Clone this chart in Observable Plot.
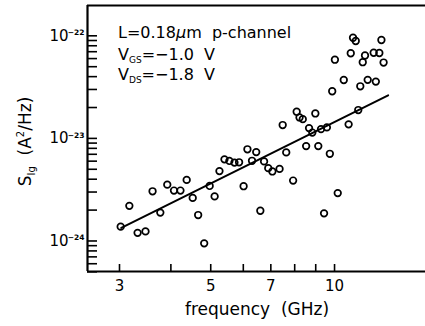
<!DOCTYPE html>
<html><head><meta charset="utf-8">
<script src="https://cdn.jsdelivr.net/npm/d3@7"></script>
<script src="https://cdn.jsdelivr.net/npm/@observablehq/plot@0.6"></script>
<style>
html,body{margin:0;padding:0;background:#fff;overflow:hidden}
svg{display:block}
</style>
</head><body><div id="chart"></div>
<script>
const freqGHz = [3.02, 3.17, 3.32, 3.47, 3.61, 3.77, 3.92, 4.07, 4.22, 4.37, 4.52, 4.66, 4.82, 4.97, 5.11, 5.25, 5.40, 5.55, 5.71, 5.86, 6.01, 6.14, 6.30, 6.45, 6.60, 6.74, 6.90, 7.06, 7.35, 7.48, 7.63, 7.93, 8.09, 8.22, 8.37, 8.53, 8.67, 8.83, 8.98, 9.13, 9.27, 9.43, 9.58, 9.74, 9.87, 10.02, 10.18, 10.53, 10.82, 10.95, 11.09, 11.26, 11.42, 11.55, 11.71, 11.86, 12.04, 12.45, 12.60, 12.85, 13.00, 13.16];
const sIg = [1.38e-24, 2.20e-24, 1.20e-24, 1.24e-24, 3.05e-24, 1.89e-24, 3.54e-24, 3.10e-24, 3.10e-24, 3.94e-24, 2.63e-24, 1.79e-24, 9.48e-25, 3.44e-24, 2.72e-24, 4.80e-24, 6.25e-24, 6.03e-24, 5.81e-24, 5.85e-24, 3.42e-24, 7.83e-24, 6.05e-24, 7.35e-24, 1.97e-24, 5.97e-24, 5.13e-24, 4.76e-24, 5.04e-24, 1.35e-23, 7.30e-24, 3.88e-24, 1.82e-23, 1.60e-23, 1.54e-23, 8.41e-24, 1.26e-23, 1.14e-23, 1.75e-23, 8.41e-24, 1.23e-23, 1.86e-24, 1.28e-23, 7.08e-24, 2.88e-23, 5.85e-23, 2.93e-24, 3.71e-23, 1.37e-23, 6.76e-23, 9.58e-23, 8.90e-23, 1.89e-23, 3.22e-23, 5.53e-23, 6.43e-23, 3.72e-23, 6.84e-23, 3.58e-23, 6.80e-23, 9.10e-23, 5.49e-23];
const fitFreqGHz = [3.03, 13.5];
const fitSIg = [1.34e-24, 2.63e-23];
const xTicks = [3, 4, 5, 6, 7, 8, 9, 10];
const xTickLabels = ["3", "", "5", "", "7", "", "", "10"];
const yMajor = [1e-22, 1e-23, 1e-24];
const yExponents = ["\u221222", "\u221223", "\u221224"];
const yMinor = [5e-25, 6e-25, 7e-25, 8e-25, 9e-25, 2e-24, 3e-24, 4e-24, 5e-24, 6e-24, 7e-24, 8e-24, 9e-24, 2e-23, 3e-23, 4e-23, 5e-23, 6e-23, 7e-23, 8e-23, 9e-23];
const xDomain = [2.508, 16.64];
const yDomain = [5.04e-25, 1.975e-22];

const W = 425, H = 326;
const mL = 87, mR = 0, mT = 5, mB = 55;
const frameW = W - mL - mR, frameH = H - mT - mB;

const points = freqGHz.map((f, i) => ({f, s: sIg[i]}));
const fit = fitFreqGHz.map((f, i) => ({f, s: fitSIg[i]}));

const plot = Plot.plot({
  width: W, height: H,
  marginLeft: mL, marginRight: mR, marginTop: mT, marginBottom: mB,
  style: {fontFamily: "DejaVu Sans", fontSize: "15px", background: "white", color: "black"},
  x: {type: "log", domain: xDomain, axis: null},
  y: {type: "log", domain: yDomain, axis: null},
  marks: [
    Plot.ruleY([yDomain[0]], {stroke: "black", strokeWidth: 2.2}),
    Plot.ruleY([yDomain[1]], {stroke: "black", strokeWidth: 2.2}),
    Plot.ruleX([xDomain[0]], {stroke: "black", strokeWidth: 2.2}),
    Plot.ruleX(xTicks, {x: d => d, stroke: "black", strokeWidth: 1.6, insetTop: frameH - 7}),
    Plot.ruleY(yMajor, {y: d => d, stroke: "black", strokeWidth: 1.6, insetRight: frameW - 10}),
    Plot.ruleY(yMinor, {y: d => d, stroke: "black", strokeWidth: 1.6, insetRight: frameW - 10}),
    Plot.text(xTicks, {x: d => d, y: () => yDomain[0], text: (d, i) => xTickLabels[i], dy: 15, fontSize: 15, fill: "black"}),
    Plot.text(yMajor, {x: () => xDomain[0], y: d => d, text: () => "10", textAnchor: "end", dx: -19, fontSize: 15, fill: "black"}),
    Plot.text(yMajor, {x: () => xDomain[0], y: d => d, text: (d, i) => yExponents[i], textAnchor: "end", dx: -3, dy: -3, fontSize: 7.5, fontWeight: "bold", fill: "black"}),
    Plot.line(fit, {x: "f", y: "s", stroke: "black", strokeWidth: 2}),
    Plot.dot(points, {x: "f", y: "s", r: 3.3, stroke: "black", strokeWidth: 1.7, fill: "none"})
  ]
});

const svg = d3.select(plot);
const ff = "DejaVu Sans";
// x title
svg.append("text").attr("x", 257).attr("y", 315).attr("text-anchor", "middle")
  .attr("font-family", ff).attr("font-size", 17).attr("fill", "black").style("white-space", "pre")
  .text("frequency  (GHz)");
// y title
const yt = svg.append("text").attr("transform", "translate(31,141.5) rotate(-90)").attr("text-anchor", "middle")
  .attr("font-family", ff).attr("font-size", 17).attr("fill", "black").style("white-space", "pre");
yt.append("tspan").text("S");
yt.append("tspan").attr("font-size", 10).attr("dy", 4).text("Ig");
yt.append("tspan").attr("dy", -4).text("  (A");
yt.append("tspan").attr("font-size", 10).attr("dy", -7).text("2");
yt.append("tspan").attr("dy", 7).text("/Hz)");
// annotations
const a1 = svg.append("text").attr("x", 118).attr("y", 38).attr("text-anchor", "start").attr("font-family", ff).attr("font-size", 16).attr("fill", "black").style("white-space", "pre");
a1.append("tspan").text("L=0.18");
a1.append("tspan").attr("font-style", "italic").text("\u03bc");
a1.append("tspan").text("m  p-channel");
const lines = [["GS", "=\u22121.0  V", 60], ["DS", "=\u22121.8  V", 80]];
for (const [sub, rest, yy] of lines) {
  const t = svg.append("text").attr("x", 118).attr("y", yy).attr("text-anchor", "start").attr("font-family", ff).attr("font-size", 16).attr("fill", "black").style("white-space", "pre");
  t.append("tspan").text("V");
  t.append("tspan").attr("font-size", 9).attr("dy", 3).text(sub);
  t.append("tspan").attr("dy", -3).text(rest);
}
document.getElementById("chart").appendChild(plot);
</script>
</body></html>
